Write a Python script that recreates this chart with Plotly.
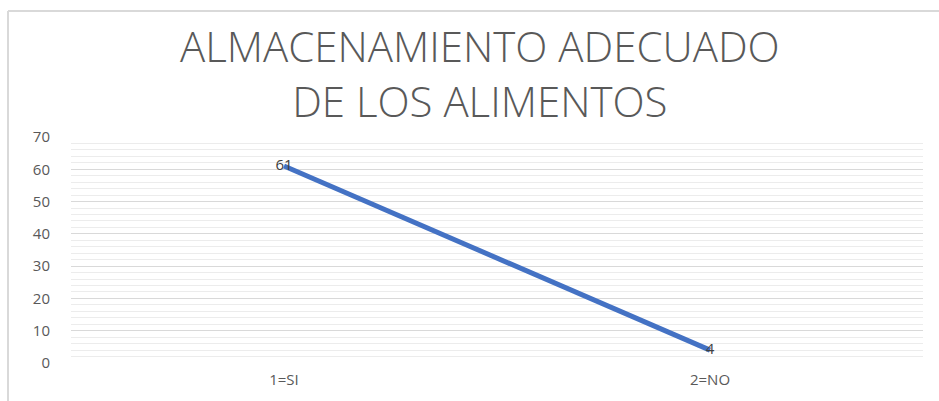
import plotly.graph_objects as go

categories = ["1=SI", "2=NO"]
values = [61, 4]
title_lines = ["ALMACENAMIENTO ADECUADO", "DE LOS ALIMENTOS"]

W, H = 939, 401
L, R, T, B = 71, 16, 137, 36
PW, PH = W - L - R, H - T - B

fig = go.Figure()
fig.add_trace(go.Scatter(
    x=categories, y=values, mode="lines+text",
    line=dict(color="#4472C4", width=5),
    text=[str(v) for v in values], textposition="middle center",
    textfont=dict(family="Open Sans", size=15, color="#404040"),
    showlegend=False, hoverinfo="skip", cliponaxis=False,
))

fig.update_layout(
    width=W, height=H,
    paper_bgcolor="white", plot_bgcolor="white",
    margin=dict(l=L, r=R, t=T, b=B),
    xaxis=dict(type="category", range=[-0.5, 1.5], showgrid=False, zeroline=False,
               showline=False, ticks="", ticklabelstandoff=6,
               tickfont=dict(family="Open Sans", size=15, color="#595959")),
    yaxis=dict(range=[0, 70], dtick=10, showgrid=True, gridcolor="#d9d9d9", gridwidth=1,
               zeroline=False, showline=False, ticks="",
               tickfont=dict(family="Open Sans", size=15, color="#595959"),
               minor=dict(dtick=2, showgrid=True, gridcolor="#ececec", gridwidth=1),
               ticklabelstandoff=20),
    font=dict(family="Open Sans"),
)

# title (two lines, one text block)
fig.add_annotation(text="<br>".join(title_lines), xref="paper", yref="paper",
                   x=(480 - L) / PW, y=1 + (T - 72) / PH,
                   xanchor="center", yanchor="middle", showarrow=False, align="center",
                   font=dict(family="Open Sans", size=42, color="#595959", weight=300))

# chart frame (top and left edges visible)
ytop = 1 + (T - 10) / PH
xleft = (8 - L) / PW
fig.add_shape(type="line", xref="paper", yref="paper",
              x0=xleft, x1=1.05, y0=ytop, y1=ytop,
              line=dict(color="#d9d9d9", width=2))
fig.add_shape(type="line", xref="paper", yref="paper",
              x0=xleft, x1=xleft, y0=-0.3, y1=ytop,
              line=dict(color="#d9d9d9", width=2))

fig.write_html("out.html", config={"displayModeBar": False},
               post_script="document.body.style.margin='0';")
